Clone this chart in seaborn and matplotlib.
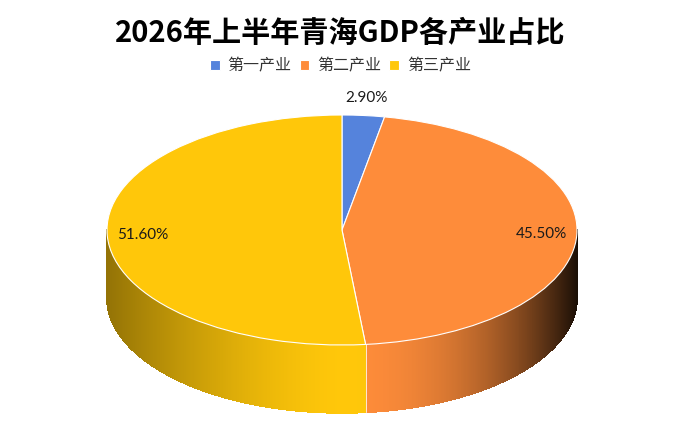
import numpy as np
import matplotlib
matplotlib.use("Agg")
import matplotlib.pyplot as plt
import seaborn as sns
from matplotlib.collections import PolyCollection

# data
categories = ["第一产业", "第二产业", "第三产业"]
shares = [2.9, 45.5, 51.6]
colors = ["#5583DC", "#FE8C3A", "#FFC70A"]
title = "2026年上半年青海GDP各产业占比"

sns.set_theme(style="white")
plt.rcParams["font.family"] = ["Noto Sans CJK SC", "DejaVu Sans"]

fig = plt.figure(figsize=(6.81, 4.30), dpi=100)
W, H = 681, 430

# pie centre / radii in pixels
cx, cy = 342, 230
rx, ry = 235, 115
depth = 0.59  # side height in data units (radius = 1)

xlo, xhi = -1.2, 1.2
ylo, yhi = -1.7, 1.2
left = (cx + xlo * rx) / W
bottom = (H - cy + ylo * ry) / H
ax = fig.add_axes([left, bottom, (xhi - xlo) * rx / W, (yhi - ylo) * ry / H])

wedges, texts, autotexts = ax.pie(
    shares, colors=colors, startangle=90, counterclock=False,
    autopct="%.2f%%", pctdistance=0.85,
    wedgeprops=dict(edgecolor="white", linewidth=0.8),
    textprops=dict(fontsize=11, family=["Lato", "DejaVu Sans"], color="#1a1a1a"),
)
for w in wedges:
    w.set_zorder(2)
for t in autotexts:
    t.set_zorder(3)
# small slice label sits outside
x0, y0 = autotexts[0].get_position()
autotexts[0].set_position((x0 / 0.85 * 1.15, y0 / 0.85 * 1.15))


def shade(u):
    if u < 0:
        return 1 - 0.42 * (-u) ** 1.5
    return 1 - 0.9 * u ** 2.2


# side wall, clockwise angles from 12 o'clock
bounds = np.concatenate([[0], np.cumsum(shares)]) / sum(shares) * 360
for i, c in enumerate(colors):
    a0, a1 = max(bounds[i], 90), min(bounds[i + 1], 270)
    if a1 <= a0:
        continue
    base = np.array(matplotlib.colors.to_rgb(c))
    th = np.radians(np.linspace(a0, a1, int((a1 - a0) * 3) + 2))
    polys, cols = [], []
    for t1, t2 in zip(th[:-1], th[1:]):
        polys.append([(np.sin(t1), np.cos(t1)), (np.sin(t2), np.cos(t2)),
                      (np.sin(t2), np.cos(t2) - depth), (np.sin(t1), np.cos(t1) - depth)])
        f = shade((np.sin(t1) + np.sin(t2)) / 2)
        cols.append(np.clip(base * f, 0, 1))
    ax.add_collection(PolyCollection(polys, facecolors=cols, edgecolors=cols,
                                     linewidths=0.6, antialiaseds=False, zorder=1))
    if bounds[i + 1] < 270:
        tb = np.radians(bounds[i + 1])
        ax.plot([np.sin(tb)] * 2, [np.cos(tb), np.cos(tb) - depth],
                color="white", lw=0.7, alpha=0.8, zorder=1.5)

ax.set_xlim(xlo, xhi)
ax.set_ylim(ylo, yhi)
ax.set_aspect("auto")
ax.axis("off")

fig.text(0.5, 1 - 33 / H, title, ha="center", va="center",
         fontsize=21, fontweight="bold", color="black")
fig.legend(wedges, categories, loc="center", bbox_to_anchor=(0.5, 1 - 66 / H),
           ncol=3, frameon=False, fontsize=11.5, handlelength=0.6,
           handleheight=0.6, handletextpad=0.5, columnspacing=0.5,
           labelcolor="#333333")

fig.savefig("out.png", dpi=100, facecolor="white")
